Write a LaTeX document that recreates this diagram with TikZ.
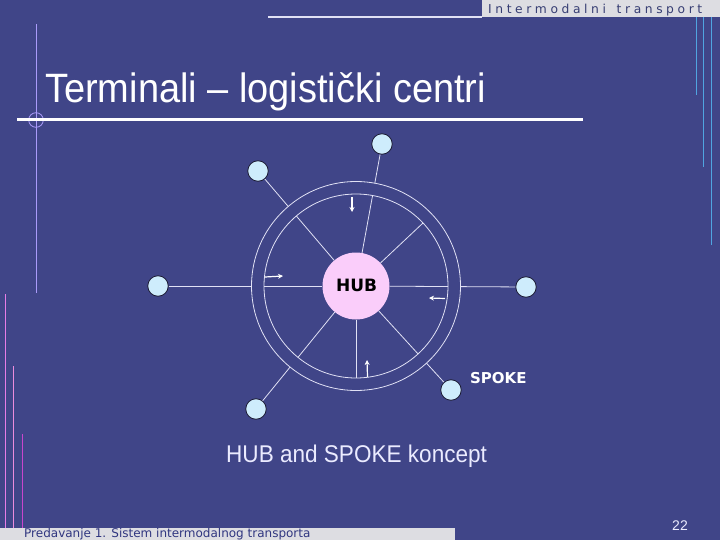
\documentclass[tikz,border=0pt]{standalone}
\usepackage{fontspec}
\setmainfont{Liberation Sans}
\newfontfamily\dv{DejaVu Sans}
\usetikzlibrary{calc,arrows.meta}
\definecolor{bg}{RGB}{64,69,136}
\definecolor{hdrgray}{RGB}{221,221,226}
\definecolor{hdrtext}{RGB}{55,62,115}
\definecolor{foottext}{RGB}{48,54,128}
\definecolor{lav}{RGB}{170,155,250}
\definecolor{skyline}{RGB}{80,165,225}
\definecolor{pinkA}{RGB}{230,125,230}
\definecolor{pinkB}{RGB}{235,140,220}
\definecolor{pinkC}{RGB}{200,70,205}
\definecolor{ringcol}{RGB}{225,225,245}
\definecolor{spokefill}{RGB}{206,236,252}
\definecolor{spokeline}{RGB}{25,25,50}
\definecolor{hubfill}{RGB}{250,205,250}
\definecolor{captcol}{RGB}{235,235,255}
\tikzset{
  spokenode/.style={circle,fill=spokefill,draw=spokeline,line width=0.8pt,minimum size=20.5pt,inner sep=0pt},
  wire/.style={draw=ringcol,line width=0.8pt},
  flowarrow/.style={draw=white,line width=1.2pt,-{Stealth[length=5pt,width=5pt]}},
}
\begin{document}
\begin{tikzpicture}[x=1pt,y=-1pt]
\useasboundingbox (0,0) rectangle (720,540);
\fill[bg] (0,0) rectangle (720,540);
% header
\fill[hdrgray] (482,0) rectangle (720,16.8);
\node[anchor=base west,inner sep=0pt,text=hdrtext] (hdr) at (488,14)
  {\dv\fontsize{12.3}{12.3}\selectfont\hbox to 214pt{I\hfill n\hfill t\hfill e\hfill r\hfill m\hfill o\hfill d\hfill a\hfill l\hfill n\hfill i\hfill\hfill\hfill t\hfill r\hfill a\hfill n\hfill s\hfill p\hfill o\hfill r\hfill t}};
\draw[ringcol,line width=1.5pt] (268,17) -- (482,17);
% right lines
\draw[skyline,line width=1.2pt] (696.7,17) -- (696.7,95);
\draw[skyline,line width=1.2pt] (703.3,17) -- (703.3,166.7);
\draw[skyline,line width=1.2pt] (711.3,17) -- (711.3,245);
% left lavender line + circle
\draw[lav,line width=1pt] (36,24) -- (36,293);
\draw[lav,line width=0.8pt] (36,120) circle[radius=7.3pt];
% title
\node[anchor=base west,inner sep=0pt,text=white] (title) at (45,102.7)
  {\fontsize{41}{41}\selectfont\scalebox{0.926}[1]{Terminali – logistički centri}};
\draw[white,line width=3pt] (17,119.3) -- (583,119.3);
% left pink lines
\draw[pinkA,line width=1.3pt] (5.3,294) -- (5.3,527.7);
\draw[pinkB,line width=1.3pt] (13.3,366) -- (13.3,527.7);
\draw[pinkC,line width=1.3pt] (22.3,434) -- (22.3,527.7);
% footer
\fill[hdrgray] (0,527.7) rectangle (455,540);
\node[anchor=base west,inner sep=0pt,text=foottext] (foot) at (24,537)
  {\dv\fontsize{12}{12}\selectfont Predavanje 1. Sistem intermodalnog transporta};
\node[text=captcol,inner sep=0pt] (pg) at (680,526) {\fontsize{14}{14}\selectfont 22};
% diagram
\coordinate (C) at (356,286);
\draw[wire] (C) circle[radius=104.5pt];
\draw[wire] (C) circle[radius=92pt];
\node[circle,fill=hubfill,minimum size=67pt,inner sep=0pt] (hub) at (C) {};
\node[inner sep=0pt] (hubtxt) at (356.7,285.5) {\dv\bfseries\fontsize{17}{17}\selectfont HUB};
\node[spokenode] (n1) at (382,144) {};
\node[spokenode] (n2) at (258,171) {};
\node[spokenode] (n3) at (158,286) {};
\node[spokenode] (n4) at (526,287) {};
\node[spokenode] (n5) at (256,409) {};
\node[spokenode] (n6) at (451,390) {};
\foreach \n in {n1,n2,n3,n4,n5,n6}{
  \draw[wire] (\n) -- ($(C)!104.5pt!(\n)$);
  \draw[wire] ($(C)!92pt!(\n)$) -- (hub);
}
\coordinate (ib) at (356,378);
\coordinate (iur) at (423,223);
\draw[wire] (hub) -- (ib);
\draw[wire] (hub) -- (iur);
% flow arrows
\coordinate (a1s) at (352,197); \coordinate (a1e) at (352,212);
\coordinate (a2s) at (265,277); \coordinate (a2e) at (283,276);
\coordinate (a3s) at (445,298.5); \coordinate (a3e) at (429,298);
\coordinate (a4s) at (367.5,377); \coordinate (a4e) at (367,360);
\draw[flowarrow] (a1s) -- (a1e);
\draw[flowarrow] (a2s) -- (a2e);
\draw[flowarrow] (a3s) -- (a3e);
\draw[flowarrow] (a4s) -- (a4e);
\node[text=white,inner sep=0pt] (spoke) at (498.3,378.5) {\dv\bfseries\fontsize{15}{15}\selectfont SPOKE};
% caption
\node[anchor=base west,inner sep=0pt,text=captcol] (cap) at (226,462.3)
  {\fontsize{24.2}{24.2}\selectfont\scalebox{0.932}[1]{HUB and SPOKE koncept}};
\end{tikzpicture}
\end{document}
